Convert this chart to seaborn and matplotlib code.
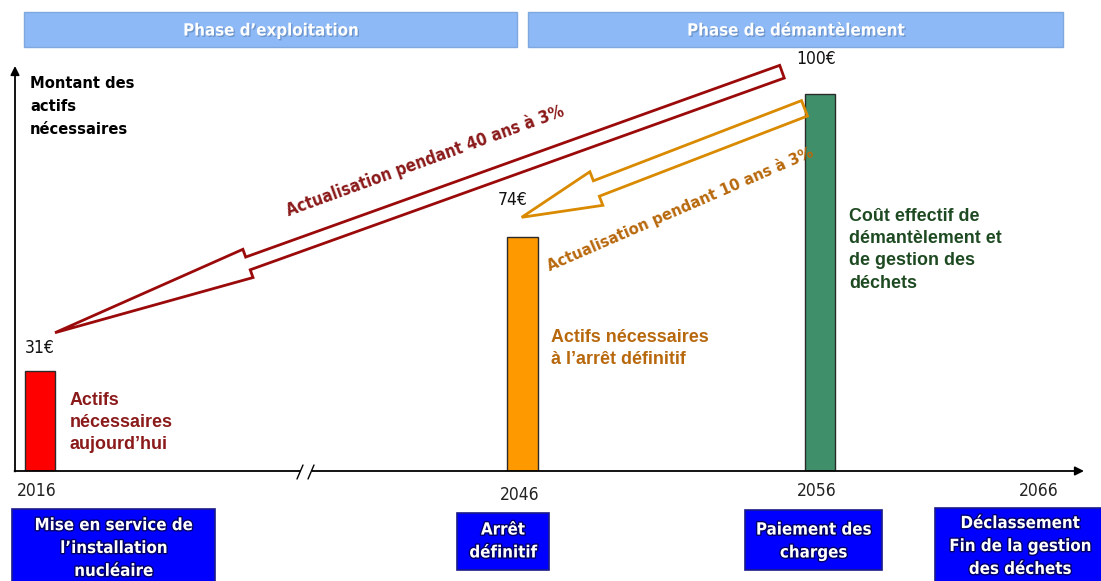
import numpy as np
import pandas as pd
import matplotlib
matplotlib.use("Agg")
import matplotlib.pyplot as plt
import seaborn as sns
from matplotlib.patches import Rectangle, FancyArrow
import matplotlib.patheffects as pe
from matplotlib import font_manager as fm

# ---------------- data ----------------
years = ["2016", "2046", "2056", "2066"]
bar_years = ["2016", "2046", "2056"]
amount_labels = ["31€", "74€", "100€"]
bar_heights = [26.5, 62.0, 100.0]          # drawn heights (relative, 100 = tallest bar)
bar_colors = ["#FF0000", "#FF9900", "#3F8F6B"]
bar_captions = ["Actifs\nnécessaires\naujourd’hui",
                "Actifs nécessaires\nà l’arrêt définitif",
                "Coût effectif de\ndémantèlement et\nde gestion des\ndéchets"]
caption_colors = ["#8B1A1A", "#B8680C", "#1E4A22"]
phase_titles = ["Phase d’exploitation", "Phase de démantèlement"]
milestones = ["Mise en service de\nl’installation\nnucléaire",
              "Arrêt\ndéfinitif",
              "Paiement des\ncharges",
              "Déclassement\nFin de la gestion\ndes déchets"]
discount_labels = ["Actualisation pendant 40 ans à 3%",
                   "Actualisation pendant 10 ans à 3%"]
y_label = "Montant des\nactifs\nnécessaires"

# ---------------- fonts ----------------
def pick_narrow():
    cond = {"condensed", "semi-condensed", "extra-condensed", "ultra-condensed"}
    prefs = ["Liberation Sans Narrow", "Arial Narrow", "DejaVu Sans", "Noto Sans",
             "Roboto Condensed", "Roboto", "Open Sans"]
    found = {}
    for f in fm.fontManager.ttflist:
        st = f.stretch
        is_cond = (st in cond) or (isinstance(st, (int, float)) and st < 500) or ("Narrow" in f.name) or ("Condensed" in f.name)
        if is_cond and f.weight in ("bold", 700, "semibold", 600):
            found.setdefault(f.name, f.stretch)
    for p in prefs:
        if p in found:
            return p, found[p], 1.0
    return "Liberation Sans", "normal", 0.86

NARROW_FAM, NARROW_STRETCH, NSCALE = pick_narrow()
REG = ["Liberation Sans", "DejaVu Sans"]

def nfont(size, bold=True):
    return dict(family=[NARROW_FAM, "DejaVu Sans"], stretch=NARROW_STRETCH,
                fontsize=size * NSCALE, fontweight="bold" if bold else "normal")

# ---------------- layout ----------------
W, H = 1101, 581
sns.set_theme(style="white")
plt.rcParams["font.family"] = REG

fig = plt.figure(figsize=(W / 100, H / 100), dpi=100)
fig.patch.set_facecolor("white")

ax_left, ax_base, ax_right, ax_top = 15, 471, 1080, 65
ax = fig.add_axes([ax_left / W, (H - ax_base) / H, (ax_right - ax_left) / W, (ax_base - ax_top) / H])
slot_x = [0.0235, 0.4765, 0.7559, 0.9643]     # timeline slot centres (axes fraction)
bar_w = 0.0285
px_per_unit = 3.77

df = pd.DataFrame({"pos": slot_x[:3], "height": bar_heights, "year": bar_years})
min_sp = np.min(np.diff(sorted(df["pos"])))
sns.barplot(data=df, x="pos", y="height", hue="year", palette=bar_colors,
            native_scale=True, width=bar_w / min_sp, dodge=False,
            edgecolor="#2a2a2a", linewidth=1.0, legend=False, ax=ax, saturation=1)
ax.set_xlim(0, 1)
ax.set_ylim(0, (ax_base - ax_top) / px_per_unit)
ax.axis("off")

bg = fig.add_axes([0, 0, 1, 1])
bg.set_xlim(0, W)
bg.set_ylim(H, 0)
bg.axis("off")
bg.patch.set_alpha(0)

def sx(i):
    return ax_left + slot_x[i] * (ax_right - ax_left)

# axes arrows
bg.annotate("", xy=(ax_left, 66), xytext=(ax_left, ax_base + 0.5),
            arrowprops=dict(arrowstyle="-|>", lw=1.3, color="black", mutation_scale=13, shrinkA=0, shrinkB=0))
bg.annotate("", xy=(1084, ax_base), xytext=(ax_left - 0.5, ax_base),
            arrowprops=dict(arrowstyle="-|>", lw=1.3, color="black", mutation_scale=13, shrinkA=0, shrinkB=0))
bg.add_patch(Rectangle((300, ax_base - 3), 12, 6, facecolor="white", edgecolor="none", zorder=5))
for x0 in (297, 308):
    bg.plot([x0, x0 + 6], [479, 465], color="black", lw=1.0, zorder=6)

# year labels
year_y = [491, 495, 491, 491]
for i, yl in enumerate(years):
    bg.text(sx(i) - 3, year_y[i], yl, ha="center", va="center", color="#222222", **nfont(12.5, bold=False))

# value labels
val_pos = [(40, 348), (513, 200), (816, 59)]
for (x, y), lab in zip(val_pos, amount_labels):
    bg.text(x, y, lab, ha="center", va="center", color="#111111", **nfont(12.5, bold=False))

# y label
bg.text(30, 76, y_label, ha="left", va="top", color="black", linespacing=1.68, **nfont(11.8))

# captions
cap_pos = [(70, 392), (551, 329), (849, 208)]
for (x, y), cap, c in zip(cap_pos, bar_captions, caption_colors):
    bg.text(x, y, cap, ha="left", va="top", fontsize=12.9, fontweight="bold",
            color=c, linespacing=1.4, family=REG)

# phase headers
phase_boxes = [(24, 12, 493, 35), (528, 12, 535, 35)]
for (x, y, w, h), t in zip(phase_boxes, phase_titles):
    bg.add_patch(Rectangle((x, y), w, h, facecolor="#8DB9F6", edgecolor="#7EA8DE", lw=1))
    bg.text(x + w / 2, y + h / 2 + 1, t, ha="center", va="center", color="white",
            path_effects=[pe.withSimplePatchShadow(offset=(1, -1), shadow_rgbFace="#5a7fb0", alpha=0.6)],
            **nfont(12.1))

# milestone boxes
ms_boxes = [(12, 509, 203, 80), (457, 513, 92, 57), (745, 510, 137, 60), (935, 508, 170, 80)]
ms_text_y = [548, 541, 541, 546]
for (x, y, w, h), t, ty in zip(ms_boxes, milestones, ms_text_y):
    bg.add_patch(Rectangle((x, y), w, h, facecolor="#0000FF", edgecolor="#1a1a8a", lw=1.2))
    bg.text(x + w / 2, ty, t, ha="center", va="center", color="white", linespacing=1.35,
            path_effects=[pe.withStroke(linewidth=2, foreground="#00006a")], **nfont(12.1))

# discount arrows (outlined block arrows)
bg.add_patch(FancyArrow(782, 71.7, -727, 261, width=13.5, head_width=30, head_length=205,
                        length_includes_head=True, fill=False, edgecolor="#9B0A0A", lw=2, zorder=7))
bg.add_patch(FancyArrow(804.5, 108.3, -282.8, 109, width=16.5, head_width=36, head_length=80,
                        length_includes_head=True, fill=False, edgecolor="#D98A00", lw=2, zorder=7))

# rotated discount labels
bg.text(425, 161, discount_labels[0], ha="center", va="center", rotation=20,
        color="#8B1A1A", rotation_mode="anchor", zorder=8, **nfont(12.1))
bg.text(680, 209, discount_labels[1], ha="center", va="center", rotation=23.5,
        color="#B8680C", rotation_mode="anchor", zorder=8, **nfont(11.8))

fig.savefig("out.png", dpi=100)
